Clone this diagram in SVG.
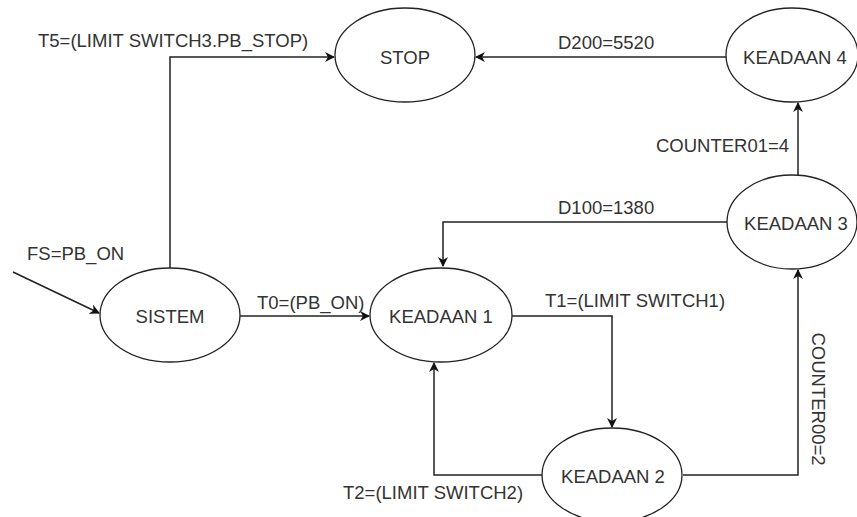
<svg xmlns="http://www.w3.org/2000/svg" width="857" height="517" viewBox="0 0 857 517">
<defs>
<marker id="arr" viewBox="0 0 10 10" refX="9" refY="5" markerWidth="10" markerHeight="10" markerUnits="userSpaceOnUse" orient="auto">
<path d="M0,0 L10,5 L0,10 L3,5 Z" fill="#111"/>
</marker>
</defs>
<style>
.node ellipse{fill:#fff;stroke:#222;stroke-width:1.3}
text{font-family:"Liberation Sans",Arial,sans-serif;font-size:18.5px;fill:#333}
.c{text-anchor:middle;dominant-baseline:central}
.edge{fill:none;stroke:#222;stroke-width:1.5;marker-end:url(#arr)}
</style>
<rect width="857" height="517" fill="#fff"/>
<g id="connectors">
<path class="edge" d="M13,272 L99,313"/>
<path class="edge" d="M170,268 L170,57 L334,57"/>
<path class="edge" d="M240,316 L369,316"/>
<path class="edge" d="M726,57 L476,57"/>
<path class="edge" d="M798,175 L798,103"/>
<path class="edge" d="M728,222 L443,222 L443,266"/>
<path class="edge" d="M512,316 L612,316 L612,427"/>
<path class="edge" d="M542,475 L434,475 L434,363"/>
<path class="edge" d="M683,475 L798,475 L798,270"/>
</g>
<g id="labels">
<text x="38" y="40" dominant-baseline="central">T5=(LIMIT SWITCH3.PB_STOP)</text>
<text x="27" y="253" dominant-baseline="central">FS=PB_ON</text>
<text x="257" y="302" dominant-baseline="central">T0=(PB_ON)</text>
<text x="545" y="300" dominant-baseline="central">T1=(LIMIT SWITCH1)</text>
<text x="343" y="492" dominant-baseline="central">T2=(LIMIT SWITCH2)</text>
<text x="558" y="42" dominant-baseline="central">D200=5520</text>
<text x="558" y="207" dominant-baseline="central">D100=1380</text>
<text x="656" y="145" dominant-baseline="central">COUNTER01=4</text>
<text class="c" transform="translate(818,399) rotate(90)">COUNTER00=2</text>
</g>
<g id="sistem" class="node"><ellipse cx="170" cy="315" rx="70" ry="47"/><text class="c" x="170" y="316">SISTEM</text></g>
<g id="stop" class="node"><ellipse cx="405" cy="55" rx="70" ry="47"/><text class="c" x="405" y="57">STOP</text></g>
<g id="keadaan1" class="node"><ellipse cx="441" cy="315" rx="71" ry="47"/><text class="c" x="441" y="316">KEADAAN 1</text></g>
<g id="keadaan2" class="node"><ellipse cx="612" cy="475" rx="70" ry="47"/><text class="c" x="613" y="476">KEADAAN 2</text></g>
<g id="keadaan3" class="node"><ellipse cx="792" cy="222" rx="65" ry="47"/><text class="c" x="796" y="223">KEADAAN 3</text></g>
<g id="keadaan4" class="node"><ellipse cx="792" cy="55" rx="66" ry="47"/><text class="c" x="795" y="57">KEADAAN 4</text></g>
</svg>
